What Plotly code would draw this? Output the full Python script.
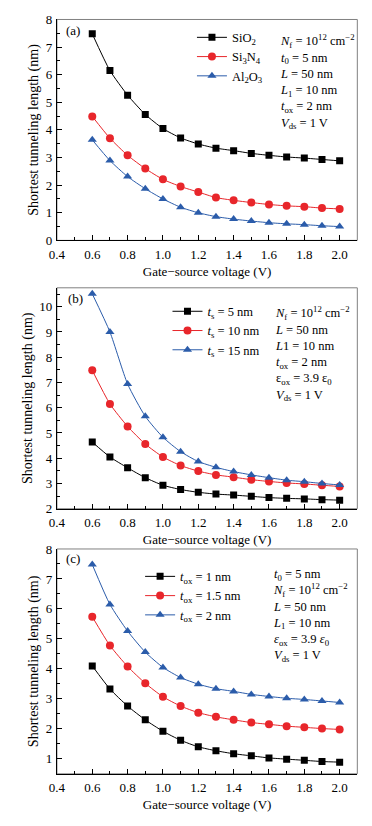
import plotly.graph_objects as go

vgs = [0.6, 0.7, 0.8, 0.9, 1.0, 1.1, 1.2, 1.3, 1.4, 1.5, 1.6, 1.7, 1.8, 1.9, 2.0]

# panel (a): oxide material
a_sio2 = [7.48, 6.15, 5.26, 4.56, 4.05, 3.71, 3.49, 3.34, 3.25, 3.15, 3.08, 3.02, 2.98, 2.93, 2.88]
a_si3n4 = [4.49, 3.70, 3.08, 2.60, 2.21, 1.95, 1.75, 1.55, 1.45, 1.37, 1.30, 1.25, 1.22, 1.17, 1.14]
a_al2o3 = [3.64, 2.89, 2.31, 1.87, 1.50, 1.20, 1.00, 0.86, 0.77, 0.70, 0.64, 0.60, 0.57, 0.53, 0.50]

# panel (b): silicon thickness ts
b_ts5 = [4.64, 4.05, 3.62, 3.23, 2.93, 2.76, 2.65, 2.58, 2.54, 2.49, 2.44, 2.41, 2.39, 2.36, 2.34]
b_ts10 = [7.48, 6.15, 5.26, 4.56, 4.05, 3.71, 3.49, 3.34, 3.25, 3.15, 3.08, 3.02, 2.98, 2.93, 2.88]
b_ts15 = [10.51, 9.00, 6.94, 5.66, 4.83, 4.26, 3.87, 3.64, 3.47, 3.34, 3.23, 3.13, 3.07, 3.00, 2.94]

# panel (c): oxide thickness tox
c_tox1 = [4.10, 3.33, 2.76, 2.30, 1.92, 1.62, 1.40, 1.27, 1.17, 1.10, 1.03, 0.99, 0.95, 0.91, 0.89]
c_tox15 = [5.74, 4.78, 4.08, 3.52, 3.07, 2.76, 2.54, 2.40, 2.30, 2.21, 2.15, 2.09, 2.05, 2.01, 1.98]
c_tox2 = [7.48, 6.15, 5.26, 4.56, 4.05, 3.71, 3.49, 3.34, 3.25, 3.15, 3.08, 3.02, 2.98, 2.93, 2.88]

x_ticks = [0.4, 0.6, 0.8, 1.0, 1.2, 1.4, 1.6, 1.8, 2.0]
x_range = [0.4, 2.1]
y_ranges = [[0, 8], [2, 10.75], [0.5, 8]]

names_a = ["SiO<sub>2</sub>", "Si<sub>3</sub>N<sub>4</sub>", "Al<sub>2</sub>O<sub>3</sub>"]
names_b = ["<i>t</i><sub>s</sub> = 5 nm", "<i>t</i><sub>s</sub> = 10 nm", "<i>t</i><sub>s</sub> = 15 nm"]
names_c = ["<i>t</i><sub>ox</sub> = 1 nm", "<i>t</i><sub>ox</sub> = 1.5 nm", "<i>t</i><sub>ox</sub> = 2 nm"]

params_a = ("<i>N</i><sub>f</sub> = 10<sup>12</sup> cm<sup>−2</sup><br>"
            "<i>t</i><sub>0</sub> = 5 nm<br><i>L</i> = 50 nm<br>"
            "<i>L</i><sub>1</sub> = 10 nm<br><i>t</i><sub>ox</sub> = 2 nm<br>"
            "<i>V</i><sub>ds</sub> = 1 V")
params_b = ("<i>N</i><sub>f</sub> = 10<sup>12</sup> cm<sup>−2</sup><br>"
            "<i>L</i> = 50 nm<br><i>L</i>1 = 10 nm<br>"
            "<i>t</i><sub>ox</sub> = 2 nm<br>ε<sub>ox</sub> = 3.9 ε<sub>0</sub><br>"
            "<i>V</i><sub>ds</sub> = 1 V")
params_c = ("<i>t</i><sub>0</sub> = 5 nm<br>"
            "<i>N</i><sub>f</sub> = 10<sup>12</sup> cm<sup>−2</sup><br>"
            "<i>L</i> = 50 nm<br><i>L</i><sub>1</sub> = 10 nm<br>"
            "<i>ε</i><sub>ox</sub> = 3.9 <i>ε</i><sub>0</sub><br>"
            "<i>V</i><sub>ds</sub> = 1 V")

colors = ["#000000", "#e8262b", "#2b5caa"]
symbols = ["square", "circle", "triangle-up"]
msizes = [7, 8, 8]

W, H = 372, 826
FONT = "Liberation Serif, Times New Roman, serif"

# pixel layout of the three panels (top, bottom)
px_left, px_right = 50, 357
panels_px = [(12.7, 237.7), (286, 511), (552, 781)]

fig = go.Figure()

panel_series = [
    (a_sio2, a_si3n4, a_al2o3, names_a),
    (b_ts5, b_ts10, b_ts15, names_b),
    (c_tox1, c_tox15, c_tox2, names_c),
]

for p, (s1, s2, s3, nms) in enumerate(panel_series):
    ax = "" if p == 0 else str(p + 1)
    leg = "legend" if p == 0 else "legend" + str(p + 1)
    for k, ys in enumerate([s1, s2, s3]):
        fig.add_trace(go.Scatter(
            x=vgs, y=ys, mode="lines+markers", name=nms[k],
            xaxis="x" + ax, yaxis="y" + ax, legend=leg,
            line=dict(color=colors[k], width=1, shape="spline", smoothing=0.6),
            marker=dict(color=colors[k], symbol=symbols[k], size=msizes[k]),
        ))

axis_common = dict(
    showline=True, linecolor="black", linewidth=1, mirror=False,
    ticks="inside", ticklen=5, tickwidth=1, tickcolor="black",
    showgrid=False, zeroline=False,
    tickfont=dict(family=FONT, size=13, color="black"),
)

layout = dict(
    width=W, height=H, margin=dict(l=0, r=0, t=0, b=0),
    paper_bgcolor="white", plot_bgcolor="white",
    font=dict(family=FONT, size=13, color="black"),
    shapes=[], annotations=[],
)

legend_pos = [(188, 16), (163, 295), (135, 565)]
param_pos = [(276, 23), (271, 300), (269, 568)]
param_texts = [params_a, params_b, params_c]
labels = ["(a)", "(b)", "(c)"]
label_pos = [(57, 24), (59, 297), (57, 562)]

for p, (top, bot) in enumerate(panels_px):
    ax = "" if p == 0 else str(p + 1)
    xd = [px_left / W, px_right / W]
    yd = [1 - bot / H, 1 - top / H]
    layout["xaxis" + ax] = dict(
        axis_common, domain=xd, range=x_range, anchor="y" + ax,
        tickvals=x_ticks, ticktext=[f"{v:.1f}" for v in x_ticks],
        ticklabelstandoff=2,
        minor=dict(dtick=0.1, tick0=0.4, ticks="inside", ticklen=3, tickcolor="black"),
        title=dict(text="Gate−source voltage (V)", font=dict(family=FONT, size=13), standoff=5),
    )
    y0, y1 = y_ranges[p]
    yt = list(range(int(round(y0 + 0.49)), int(y1) + 1))
    layout["yaxis" + ax] = dict(
        axis_common, domain=yd, range=[y0, y1], anchor="x" + ax,
        tickvals=yt, ticklabelstandoff=1,
        minor=dict(dtick=0.5, tick0=0, ticks="inside", ticklen=3, tickcolor="black"),
        title=dict(text="Shortest tunneling length (nm)", font=dict(family=FONT, size=14), standoff=3),
    )
    # grey frame on top/right
    layout["shapes"].append(dict(
        type="rect", xref="x" + ax + " domain", yref="y" + ax + " domain",
        x0=0, x1=1, y0=0, y1=1, line=dict(color="#808080", width=1), layer="below",
    ))
    leg = "legend" if p == 0 else "legend" + str(p + 1)
    lx, ly = legend_pos[p]
    layout[leg] = dict(
        x=lx / W, y=1 - ly / H, xanchor="left", yanchor="top",
        bgcolor="rgba(0,0,0,0)", borderwidth=0,
        font=dict(family=FONT, size=12.5, color="black"),
        itemwidth=30, tracegroupgap=0,
    )
    tx, ty = param_pos[p]
    layout["annotations"].append(dict(
        text=param_texts[p], xref="paper", yref="paper",
        x=tx / W, y=1 - ty / H, xanchor="left", yanchor="top",
        align="left", showarrow=False,
        font=dict(family=FONT, size=12.5, color="black"),
    ))
    cx, cy = label_pos[p]
    layout["annotations"].append(dict(
        text=labels[p], xref="paper", yref="paper",
        x=cx / W, y=1 - cy / H, xanchor="left", yanchor="middle",
        showarrow=False, font=dict(family=FONT, size=13, color="black"),
    ))

fig.update_layout(**layout)
fig.write_html("out.html", config={"displayModeBar": False},
               post_script="document.body.style.margin='0';")
